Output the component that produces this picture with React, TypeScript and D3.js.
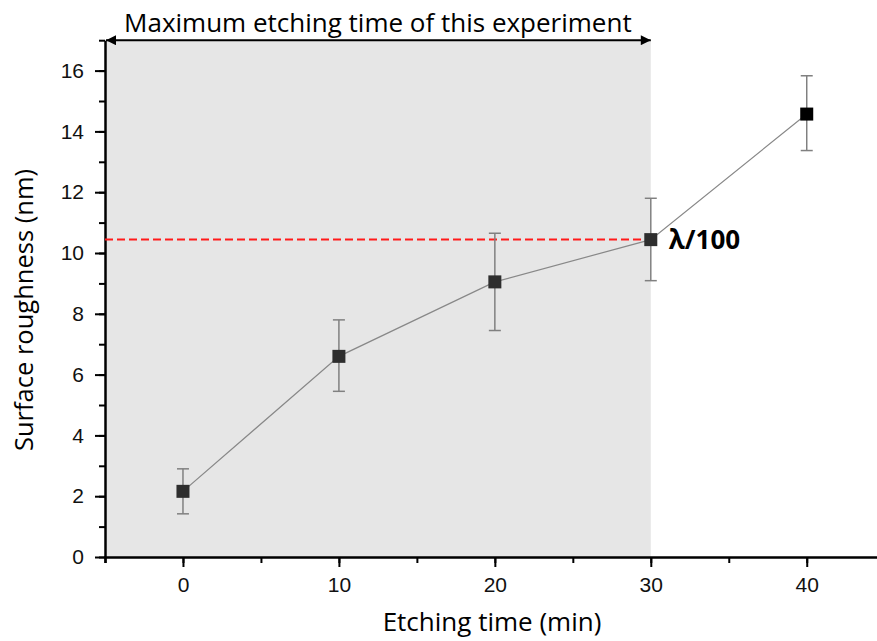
import * as d3 from 'd3';
import { useEffect, useRef } from 'react';

// etching time (min) and surface roughness (nm) with error bar limits
const etchTimes = [0, 10, 20, 30, 40];
const roughness = [2.16, 6.6, 9.05, 10.44, 14.57];
const errLow = [1.42, 5.45, 7.45, 9.09, 13.37];
const errHigh = [2.9, 7.8, 10.65, 11.8, 15.83];

const xTicks = [0, 10, 20, 30, 40];
const yTicks = [0, 2, 4, 6, 8, 10, 12, 14, 16];
const shadeLimit = 30;
const lambdaLevel = 10.44;

function App() {
    const ref = useRef<SVGSVGElement>(null);

    useEffect(() => {
        const svg = d3.select(ref.current);
        svg.selectAll('*').remove();

        const left = 105, bottom = 557;
        const x = d3.scaleLinear().domain([-5, 45]).range([left, 182.7 + 45 * 15.6]);
        const y = d3.scaleLinear().domain([0, 17]).range([bottom, bottom - 17 * 30.4]);
        const sans = "'Liberation Sans', Arial, sans-serif";
        const uiFont = "'Open Sans', 'Noto Sans', sans-serif";

        const defs = svg.append('defs');
        defs.append('marker')
            .attr('id', 'arrowhead')
            .attr('viewBox', '0 0 10 10')
            .attr('refX', 10).attr('refY', 5)
            .attr('markerWidth', 13).attr('markerHeight', 10)
            .attr('markerUnits', 'userSpaceOnUse')
            .attr('orient', 'auto-start-reverse')
            .append('path')
            .attr('d', 'M0,0L10,5L0,10Z')
            .attr('fill', '#000');

        // shaded region
        svg.append('rect')
            .attr('x', x(-5))
            .attr('y', y(17))
            .attr('width', x(shadeLimit) - x(-5))
            .attr('height', y(0) - y(17))
            .attr('fill', '#e6e6e6');

        // axes: minor ticks first, then majors with labels
        const xAxis = svg.append('g').attr('transform', `translate(0,${bottom})`);
        xAxis.call(d3.axisBottom(x).tickValues(d3.range(-5, 46, 5)).tickSize(6).tickFormat(() => ''));
        xAxis.selectAll('.tick line').attr('stroke-width', 2);
        xAxis.select('.domain').attr('stroke-width', 2.5);
        const xMajor = svg.append('g').attr('transform', `translate(0,${bottom})`)
            .call(d3.axisBottom(x).tickValues(xTicks).tickSize(10).tickPadding(10));
        xMajor.select('.domain').remove();
        xMajor.selectAll('.tick line').attr('stroke-width', 2);
        xMajor.selectAll('text').attr('font-size', 21).attr('font-family', sans).attr('fill', '#111');

        const yAxis = svg.append('g').attr('transform', `translate(${left},0)`);
        yAxis.call(d3.axisLeft(y).tickValues(d3.range(0, 18, 1)).tickSize(6).tickFormat(() => '').tickSizeOuter(0));
        yAxis.selectAll('.tick line').attr('stroke-width', 2);
        yAxis.select('.domain').attr('stroke-width', 2.5);
        const yMajor = svg.append('g').attr('transform', `translate(${left},0)`)
            .call(d3.axisLeft(y).tickValues(yTicks).tickSize(10).tickPadding(11));
        yMajor.select('.domain').remove();
        yMajor.selectAll('.tick line').attr('stroke-width', 2);
        yMajor.selectAll('text').attr('font-size', 21).attr('font-family', sans).attr('fill', '#111');

        // red dashed reference line
        svg.append('line')
            .attr('x1', x(-5)).attr('x2', x(shadeLimit))
            .attr('y1', y(lambdaLevel)).attr('y2', y(lambdaLevel))
            .attr('stroke', '#ff1a1a').attr('stroke-width', 2)
            .attr('stroke-dasharray', '8,4');

        const pts = etchTimes.map((t, i) => ({ t, v: roughness[i], lo: errLow[i], hi: errHigh[i] }));

        // connecting line
        svg.append('path')
            .datum(pts)
            .attr('d', d3.line<typeof pts[0]>().x(d => x(d.t)).y(d => y(d.v)))
            .attr('fill', 'none')
            .attr('stroke', '#888')
            .attr('stroke-width', 1.2);

        // error bars
        const eb = svg.append('g').attr('stroke', '#808080').attr('stroke-width', 1.5);
        pts.forEach(d => {
            eb.append('line').attr('x1', x(d.t)).attr('x2', x(d.t)).attr('y1', y(d.lo)).attr('y2', y(d.hi));
            eb.append('line').attr('x1', x(d.t) - 6).attr('x2', x(d.t) + 6).attr('y1', y(d.lo)).attr('y2', y(d.lo));
            eb.append('line').attr('x1', x(d.t) - 6).attr('x2', x(d.t) + 6).attr('y1', y(d.hi)).attr('y2', y(d.hi));
        });

        // square markers
        svg.selectAll('.pt')
            .data(pts)
            .enter()
            .append('rect')
            .attr('x', d => x(d.t) - 6.5)
            .attr('y', d => y(d.v) - 6.5)
            .attr('width', 13)
            .attr('height', 13)
            .attr('fill', d => d.t <= shadeLimit ? '#2e2e2e' : '#000');

        // lambda label
        svg.append('text')
            .attr('x', x(shadeLimit) + 18)
            .attr('y', y(lambdaLevel) + 9)
            .attr('font-family', uiFont)
            .attr('font-weight', 'bold')
            .attr('font-size', 26)
            .text('λ/100');

        // double arrow with caption
        svg.append('line')
            .attr('x1', x(-5) + 1).attr('x2', x(shadeLimit))
            .attr('y1', y(17)).attr('y2', y(17))
            .attr('stroke', '#000').attr('stroke-width', 2)
            .attr('marker-start', 'url(#arrowhead)')
            .attr('marker-end', 'url(#arrowhead)');
        svg.append('text')
            .attr('x', (x(-5) + x(shadeLimit)) / 2)
            .attr('y', 32)
            .attr('text-anchor', 'middle')
            .attr('font-family', uiFont)
            .attr('font-size', 26)
            .text('Maximum etching time of this experiment');

        // axis titles
        svg.append('text')
            .attr('x', 492)
            .attr('y', 631)
            .attr('text-anchor', 'middle')
            .attr('font-family', uiFont)
            .attr('font-size', 26)
            .text('Etching time (min)');
        svg.append('text')
            .attr('transform', `translate(33,310) rotate(-90)`)
            .attr('text-anchor', 'middle')
            .attr('font-family', uiFont)
            .attr('font-size', 25.5)
            .text('Surface roughness (nm)');
    }, []);

    return (
        <svg ref={ref} width={877} height={641} style={{ display: 'block', position: 'absolute', left: 0, top: 0, background: '#fff' }} />
    );
}

export default App;
